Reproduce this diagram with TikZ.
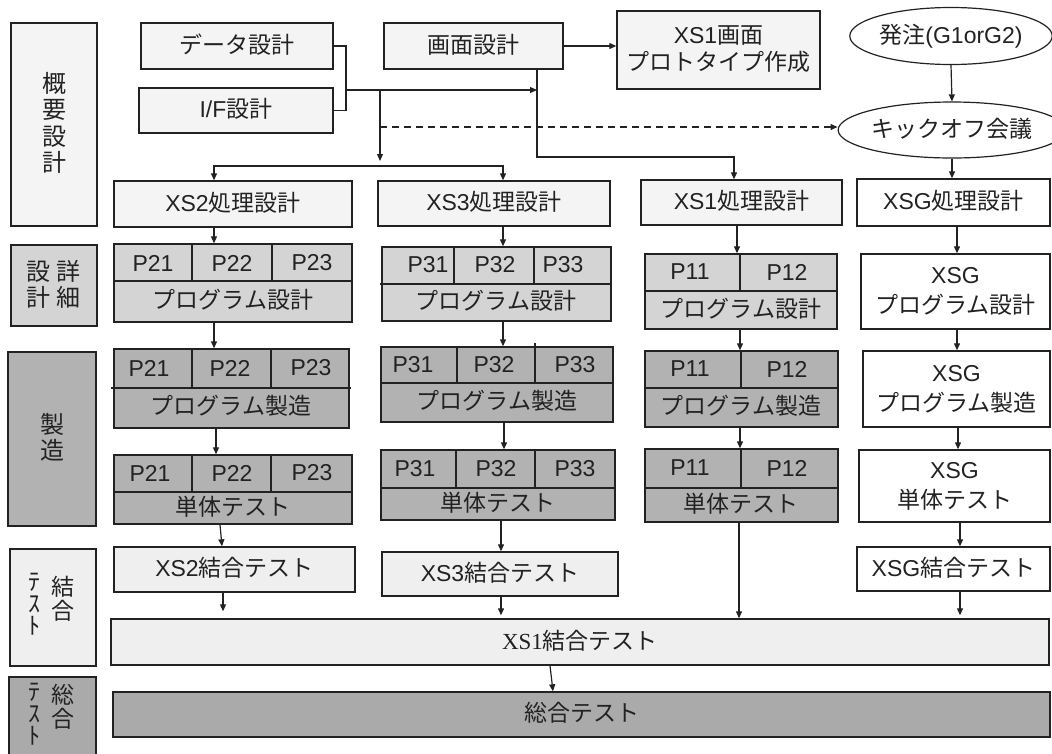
\documentclass[tikz,border=0pt]{standalone}
\usepackage{fontspec}
\setmainfont{Noto Sans CJK JP}
\newfontfamily\latinserif{Liberation Serif}
\newfontfamily\ls{Liberation Sans}
\usetikzlibrary{shapes.geometric,arrows.meta,calc}
\definecolor{lite}{HTML}{F4F4F4}
\definecolor{pale}{HTML}{EFEFEF}
\definecolor{midg}{HTML}{D4D4D4}
\definecolor{darkg}{HTML}{B2B2B2}
\definecolor{deep}{HTML}{AAAAAA}
\definecolor{ink}{HTML}{222222}
\newcommand\mainsz{\fontsize{23}{30}\selectfont}
\newcommand\jt[1]{\rule[-0.12em]{0pt}{0.88em}\smash{#1}}
% name, x1, y1, x2, y2, extra style, text
\newcommand\boxnode[7]{\node[box,#6,minimum width={#4-#2},minimum height={#5-#3}] (#1) at ({(#2+#4)/2},{(#3+#5)/2}) {#7};}
\tikzset{
  box/.style={draw=ink, line width=1.4pt, inner sep=0pt, text=ink, align=center, font=\mainsz},
  link/.style={draw=ink, line width=1.2pt},
  conn/.style={link, ->},
  divline/.style={draw=ink, line width=1.3pt},
  lbl/.style={inner sep=0pt, text=ink, align=center, font=\mainsz},
  halfkana/.style={lbl, font=\fontsize{24}{22}\selectfont},
}
\begin{document}
\begin{tikzpicture}[x=1pt,y=-1pt, >={Triangle[length=7pt,width=6pt]}]
\useasboundingbox (0,0) rectangle (1052,753);

% ---------- left phase column ----------
\boxnode{lA}{11}{23}{97}{226}{fill=lite, font=\fontsize{24}{26.5}\selectfont}{\jt{概}\\\jt{要}\\\jt{設}\\\jt{計}}
\boxnode{lB}{11}{245}{97}{326}{fill=midg, font=\fontsize{24}{26}\selectfont}{\jt{設\hspace{6pt}詳}\\\jt{計\hspace{6pt}細}}
\boxnode{lC}{8}{352}{96}{526}{fill=darkg, font=\fontsize{24}{26}\selectfont}{\jt{製}\\\jt{造}}
\boxnode{lD}{10}{549}{96}{666}{fill=pale}{}
\node[halfkana] (lDa) at (34,612) {\smash{ﾃ}\\\smash{ｽ}\\\smash{ﾄ}};
\node[lbl, font=\fontsize{23}{24}\selectfont] (lDb) at (63,600) {\jt{結}\\\jt{合}};
\boxnode{lE}{9}{677}{96}{765}{fill=deep}{}
\node[halfkana] (lEa) at (34,722) {\smash{ﾃ}\\\smash{ｽ}\\\smash{ﾄ}};
\node[lbl, font=\fontsize{23}{24}\selectfont] (lEb) at (63,708) {\jt{総}\\\jt{合}};

% ---------- top ----------
\boxnode{data}{141}{23}{333}{69}{fill=lite}{\jt{データ設計}}
\boxnode{ifd}{139}{88}{333}{133}{fill=lite}{\jt{{\ls I/F}設計}}
\boxnode{gamen}{384}{23}{563}{69}{fill=lite}{\jt{画面設計}}
\boxnode{proto}{617}{11}{820}{89}{fill=lite, font=\fontsize{23}{27}\selectfont}{\jt{{\ls XS1}画面}\\\jt{プロトタイプ作成}}
\node[box, ellipse, fill=white, line width=1.2pt, minimum width=200pt, minimum height=57pt] (order) at (951,36) {\jt{発注{\ls (G1orG2)}}};
\node[box, ellipse, fill=white, line width=1.2pt, minimum width=197pt, minimum height=56pt] (kick) at (952,130) {\jt{キックオフ会議}};

% ---------- process design ----------
\boxnode{xs2d}{114}{181}{352}{227}{fill=lite}{\jt{{\ls XS2}処理設計}}
\boxnode{xs3d}{378}{181}{610}{226}{fill=lite}{\jt{{\ls XS3}処理設計}}
\boxnode{xs1d}{641}{180}{842}{225}{fill=lite}{\jt{{\ls XS1}処理設計}}
\boxnode{xsgd}{857}{179}{1050}{226}{fill=white}{\jt{{\ls XSG}処理設計}}

% ---------- program design ----------
\boxnode{xs2p}{114}{244}{352}{322}{fill=midg}{}
\draw[divline] (114,281) -- (352,281);
\draw[divline] (192,244) -- (192,281);
\draw[divline] (272,244) -- (272,281);
\node[lbl] (xs2p1) at (153,263) {\ls P21};
\node[lbl] (xs2p2) at (232,263) {\ls P22};
\node[lbl] (xs2p3) at (312,263) {\ls P23};
\node[lbl] (xs2pt) at (233,301) {\jt{プログラム設計}};

\boxnode{xs3p}{382}{247}{611}{321}{fill=midg}{}
\draw[divline] (380,284) -- (611,284);
\draw[divline] (454,247) -- (454,284);
\draw[divline] (534,247) -- (534,284);
\node[lbl] (xs3p1) at (428,265) {\ls P31};
\node[lbl] (xs3p2) at (495,265) {\ls P32};
\node[lbl] (xs3p3) at (563,265) {\ls P33};
\node[lbl] (xs3pt) at (496,302) {\jt{プログラム設計}};

\boxnode{xs1p}{645}{254}{837}{329}{fill=midg}{}
\draw[divline] (645,291) -- (837,291);
\draw[divline] (740,254) -- (740,291);
\node[lbl] (xs1p1) at (690,272) {\ls P11};
\node[lbl] (xs1p2) at (787,272) {\ls P12};
\node[lbl] (xs1pt) at (741,310) {\jt{プログラム設計}};

\boxnode{xsgp}{861}{254}{1050}{329}{fill=white}{\jt{\ls XSG}\\\jt{プログラム設計}}

% ---------- manufacturing ----------
\boxnode{xs2m}{114}{349}{349}{428}{fill=darkg}{}
\draw[divline] (111,388) -- (351,388);
\draw[divline] (192,349) -- (192,388);
\draw[divline] (271,349) -- (271,388);
\node[lbl] (xs2m1) at (149,368) {\ls P21};
\node[lbl] (xs2m2) at (230,368) {\ls P22};
\node[lbl] (xs2m3) at (311,368) {\ls P23};
\node[lbl] (xs2mt) at (231,407) {\jt{プログラム製造}};

\boxnode{xs3m}{381}{347}{613}{422}{fill=darkg}{}
\draw[divline] (381,383) -- (613,383);
\draw[divline] (457,347) -- (457,383);
\draw[divline] (535,343) -- (535,383);
\node[lbl] (xs3m1) at (413,365) {\ls P31};
\node[lbl] (xs3m2) at (494,365) {\ls P32};
\node[lbl] (xs3m3) at (575,365) {\ls P33};
\node[lbl] (xs3mt) at (497,402) {\jt{プログラム製造}};

\boxnode{xs1m}{645}{351}{838}{427}{fill=darkg}{}
\draw[divline] (645,388) -- (838,388);
\draw[divline] (741,351) -- (741,388);
\node[lbl] (xs1m1) at (690,369) {\ls P11};
\node[lbl] (xs1m2) at (787,369) {\ls P12};
\node[lbl] (xs1mt) at (741,407) {\jt{プログラム製造}};

\boxnode{xsgm}{863}{351}{1050}{427}{fill=white}{\jt{\ls XSG}\\\jt{プログラム製造}}

% ---------- unit test ----------
\boxnode{xs2u}{114}{455}{352}{524}{fill=darkg}{}
\draw[divline] (114,492) -- (352,492);
\draw[divline] (192,455) -- (192,492);
\draw[divline] (271,455) -- (271,492);
\node[lbl] (xs2u1) at (150,473) {\ls P21};
\node[lbl] (xs2u2) at (232,473) {\ls P22};
\node[lbl] (xs2u3) at (312,473) {\ls P23};
\node[lbl] (xs2ut) at (233,508) {\jt{単体テスト}};

\boxnode{xs3u}{381}{450}{615}{520}{fill=darkg}{}
\draw[divline] (381,488) -- (615,488);
\draw[divline] (456,450) -- (456,488);
\draw[divline] (535,450) -- (535,488);
\node[lbl] (xs3u1) at (415,469) {\ls P31};
\node[lbl] (xs3u2) at (496,469) {\ls P32};
\node[lbl] (xs3u3) at (575,469) {\ls P33};
\node[lbl] (xs3ut) at (498,504) {\jt{単体テスト}};

\boxnode{xs1u}{645}{449}{838}{522}{fill=darkg}{}
\draw[divline] (645,488) -- (838,488);
\draw[divline] (741,449) -- (741,488);
\node[lbl] (xs1u1) at (690,468) {\ls P11};
\node[lbl] (xs1u2) at (787,468) {\ls P12};
\node[lbl] (xs1ut) at (741,505) {\jt{単体テスト}};

\boxnode{xsgu}{859}{450}{1050}{522}{fill=white}{\jt{\ls XSG}\\\jt{単体テスト}}

% ---------- integration / total ----------
\boxnode{xs2i}{114}{547}{355}{592}{fill=pale}{\jt{{\ls XS2}結合テスト}}
\boxnode{xs3i}{382}{552}{618}{596}{fill=pale}{\jt{{\ls XS3}結合テスト}}
\boxnode{xsgi}{857}{547}{1050}{591}{fill=white}{\jt{{\ls XSG}結合テスト}}
\boxnode{xs1i}{111}{619}{1049}{665}{fill=pale}{\jt{{\latinserif XS1}結合テスト}}
\boxnode{all}{113}{692}{1050}{737}{fill=deep}{\jt{総合テスト}}

% ---------- helper coordinates ----------
\coordinate (jx) at (346,90);
\coordinate (jd) at (380,90);
\coordinate (jdend) at (380,161);
\coordinate (split) at (380,166);
\coordinate (dash0) at (380,127);
\coordinate (gx) at (537,157);
\coordinate (k2a) at (214,0);
\coordinate (k2c) at (216,0);
\coordinate (k2d) at (220,0);
\coordinate (k2e) at (222,0);
\coordinate (k2f) at (223,0);
\coordinate (k3a) at (503,0);
\coordinate (k3c) at (504,0);
\coordinate (k3d) at (501,0);
\coordinate (k1a) at (734,0);
\coordinate (k1b) at (737,0);
\coordinate (k1c) at (740,0);
\coordinate (k1d) at (739,0);
\coordinate (kgb) at (957,0);
\coordinate (kgc) at (958,0);
\coordinate (kgd) at (960,0);
\coordinate (kx1) at (550,0);
\coordinate (kx2) at (553,0);

% ---------- connectors ----------
\draw[link] (data.east) -| (jx) |- (ifd.east);
\draw[conn] (jx) -- (jx -| gx);
\draw[conn] (jd) -- (jdend);
\draw[link, <->] (xs2d.north -| k2a) |- (split) -| (xs3d.north -| k3a);
\draw[conn, dash pattern=on 7pt off 5pt] (dash0) -- (dash0 -| kick.west);
\draw[conn] (gamen.east) -- (gamen.east -| proto.west);
\draw[conn] (gamen.south -| gx) -- (gx) -| (xs1d.north -| k1a);
\draw[conn] (order.south) -- (kick.north);
\draw[conn] (kick.south) -- (kick.south |- xsgd.north);

\draw[conn] (xs2d.south -| k2a) -- (xs2p.north -| k2a);
\draw[conn] (xs3d.south -| k3a) -- (xs3p.north -| k3a);
\draw[conn] (xs1d.south -| k1b) -- (xs1p.north -| k1b);
\draw[conn] (xsgd.south -| kgb) -- (xsgp.north -| kgb);

\draw[conn] (xs2p.south -| k2a) -- (xs2m.north -| k2a);
\draw[conn] (xs3p.south -| k3a) -- (xs3m.north -| k3a);
\draw[conn] (xs1p.south -| k1c) -- (xs1m.north -| k1c);
\draw[conn] (xsgp.south -| kgb) -- (xsgm.north -| kgb);

\draw[conn] (xs2m.south -| k2c) -- (xs2u.north -| k2c);
\draw[conn] (xs3m.south -| k3c) -- (xs3u.north -| k3c);
\draw[conn] (xs1m.south -| k1c) -- (xs1u.north -| k1c);
\draw[conn] (xsgm.south -| kgc) -- (xsgu.north -| kgc);

\draw[conn] (xs2u.south -| k2d) -- (xs2i.north -| k2e);
\draw[conn] (xs3u.south -| k3d) -- (xs3i.north -| k3d);
\draw[conn] (xsgu.south -| kgd) -- (xsgi.north -| kgd);
\draw[conn] (xs1u.south -| k1d) -- (xs1i.north -| k1d);

\draw[conn, shorten >=7pt] (xs2i.south -| k2f) -- (xs1i.north -| k2f);
\draw[conn, shorten >=3pt] (xs3i.south -| k3d) -- (xs1i.north -| k3d);
\draw[conn, shorten >=3pt] (xsgi.south -| kgd) -- (xs1i.north -| kgd);
\draw[conn] (xs1i.south -| kx1) -- (all.north -| kx2);
\end{tikzpicture}
\end{document}
